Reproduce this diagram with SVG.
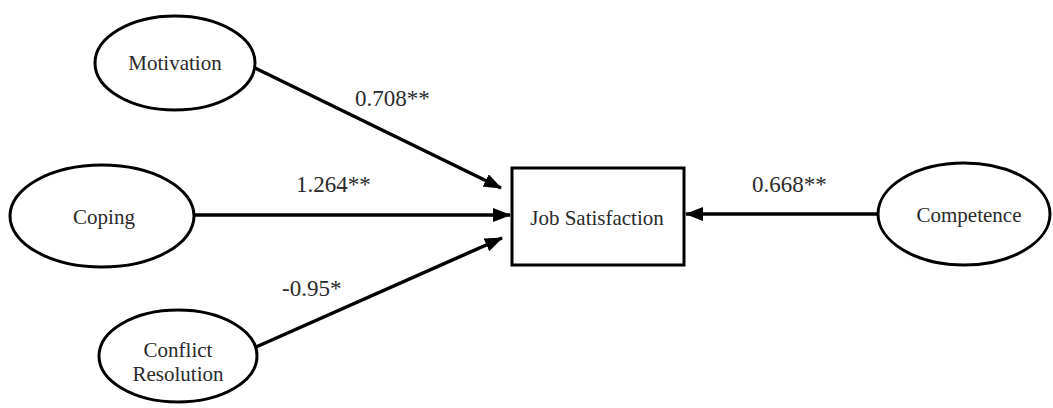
<svg xmlns="http://www.w3.org/2000/svg" width="1053" height="408" viewBox="0 0 1053 408">
<style>
.node{fill:#fff;stroke:#000;stroke-width:3}
.lbl{font-family:"Liberation Serif","Times New Roman",serif;font-size:21px;fill:#2a2a2a;text-anchor:middle;dominant-baseline:central}
.elbl{font-family:"Liberation Serif","Times New Roman",serif;font-size:23px;fill:#2a2a2a}
.edge{stroke:#000;stroke-width:3.5;fill:none;marker-end:url(#ah)}
</style>
<defs>
<marker id="ah" markerUnits="userSpaceOnUse" markerWidth="18" markerHeight="14" refX="17" refY="7" orient="auto">
<path d="M0,0 L18,7 L0,14 Z" fill="#000"/>
</marker>
</defs>
<rect width="1053" height="408" fill="#fff"/>
<g id="connectors">
<line class="edge" x1="255" y1="68" x2="501" y2="188"/>
<line class="edge" x1="194" y1="215" x2="510" y2="215"/>
<line class="edge" x1="256" y1="347" x2="502" y2="238"/>
<line class="edge" x1="877" y1="214" x2="686" y2="214"/>
</g>
<g id="edge-labels">
<text class="elbl" x="355" y="106">0.708**</text>
<text class="elbl" x="296" y="192">1.264**</text>
<text class="elbl" x="282" y="296">-0.95*</text>
<text class="elbl" x="752" y="192">0.668**</text>
</g>
<g id="motivation">
<ellipse class="node" cx="175" cy="63" rx="80" ry="47"/>
<text class="lbl" x="175" y="63">Motivation</text>
</g>
<g id="coping">
<ellipse class="node" cx="102" cy="216" rx="92" ry="51"/>
<text class="lbl" x="104" y="217">Coping</text>
</g>
<g id="conflict-resolution">
<ellipse class="node" cx="178" cy="356" rx="79" ry="46"/>
<text class="lbl" x="178" y="350">Conflict</text>
<text class="lbl" x="178" y="374">Resolution</text>
</g>
<g id="job-satisfaction">
<rect class="node" x="512" y="168" width="172" height="97"/>
<text class="lbl" x="597" y="218">Job Satisfaction</text>
</g>
<g id="competence">
<ellipse class="node" cx="964" cy="214" rx="86" ry="51"/>
<text class="lbl" x="969" y="215">Competence</text>
</g>
</svg>
